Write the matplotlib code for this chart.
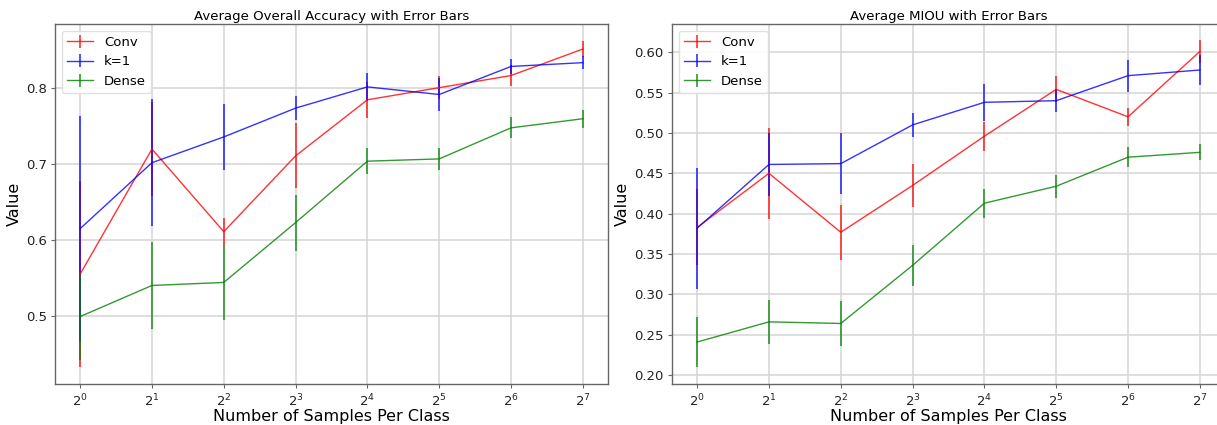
import numpy as np
import matplotlib
matplotlib.use("Agg")
import matplotlib.pyplot as plt

samples = [1, 2, 4, 8, 16, 32, 64, 128]
series_names = ["Conv", "k=1", "Dense"]
series_colors = ["red", "blue", "green"]

# Overall accuracy: mean and error per sample count
acc_conv = [0.555, 0.720, 0.611, 0.711, 0.785, 0.801, 0.817, 0.852]
acc_conv_err = [0.123, 0.062, 0.018, 0.043, 0.024, 0.015, 0.014, 0.011]
acc_k1 = [0.615, 0.702, 0.736, 0.774, 0.802, 0.792, 0.829, 0.834]
acc_k1_err = [0.148, 0.084, 0.044, 0.016, 0.019, 0.022, 0.010, 0.009]
acc_dense = [0.499, 0.540, 0.544, 0.623, 0.704, 0.707, 0.748, 0.760]
acc_dense_err = [0.057, 0.058, 0.049, 0.037, 0.017, 0.015, 0.014, 0.012]

# Mean IoU: mean and error per sample count
miou_conv = [0.383, 0.450, 0.377, 0.435, 0.496, 0.554, 0.520, 0.601]
miou_conv_err = [0.047, 0.056, 0.034, 0.027, 0.018, 0.016, 0.011, 0.014]
miou_k1 = [0.382, 0.461, 0.462, 0.510, 0.538, 0.540, 0.571, 0.578]
miou_k1_err = [0.075, 0.039, 0.038, 0.015, 0.023, 0.014, 0.020, 0.018]
miou_dense = [0.241, 0.266, 0.264, 0.336, 0.413, 0.434, 0.470, 0.476]
miou_dense_err = [0.031, 0.027, 0.028, 0.025, 0.018, 0.014, 0.012, 0.010]

panels = [
    ("Average Overall Accuracy with Error Bars",
     [(acc_conv, acc_conv_err), (acc_k1, acc_k1_err), (acc_dense, acc_dense_err)],
     (0.410, 0.885), [0.5, 0.6, 0.7, 0.8], "{:.1f}"),
    ("Average MIOU with Error Bars",
     [(miou_conv, miou_conv_err), (miou_k1, miou_k1_err), (miou_dense, miou_dense_err)],
     (0.189, 0.635), [0.20, 0.25, 0.30, 0.35, 0.40, 0.45, 0.50, 0.55, 0.60], "{:.2f}"),
]

W, H = 1217, 425
fig = plt.figure(figsize=(W / 100, H / 100), dpi=100)
axes_boxes = [
    (55 / W, (H - 384) / H, 553 / W, 360 / H),
    (672 / W, (H - 384) / H, 553 / W, 360 / H),
]

for box, (title, data, ylim, yticks, fmt) in zip(axes_boxes, panels):
    ax = fig.add_axes(box)
    for (vals, errs), name, color in zip(data, series_names, series_colors):
        ax.errorbar(samples, vals, yerr=errs, color=color, alpha=0.8,
                    lw=1.0, elinewidth=1.2, capsize=0, label=name)
    ax.set_xscale("log", base=2)
    ax.set_xticks(samples)
    ax.set_ylim(*ylim)
    ax.set_yticks(yticks)
    ax.set_yticklabels([fmt.format(t) for t in yticks])
    ax.grid(True, color="#d4d4d4", lw=1.1)
    ax.set_axisbelow(True)
    for s in ax.spines.values():
        s.set_color("#666666")
        s.set_linewidth(1.0)
    ax.tick_params(length=3, width=0.8, color="#666666", pad=3,
                   labelsize=9.5, labelcolor="#222222")
    ax.set_title(title, fontsize=9.5, pad=3)
    ax.set_xlabel("Number of Samples Per Class", fontsize=11.5, labelpad=0)
    ax.set_ylabel("Value", fontsize=11.5, labelpad=3)
    ax.legend(loc="upper left", fontsize=9.5, framealpha=0.9,
              edgecolor="#dddddd", borderaxespad=0.5)

fig.savefig("out.png", dpi=100)
